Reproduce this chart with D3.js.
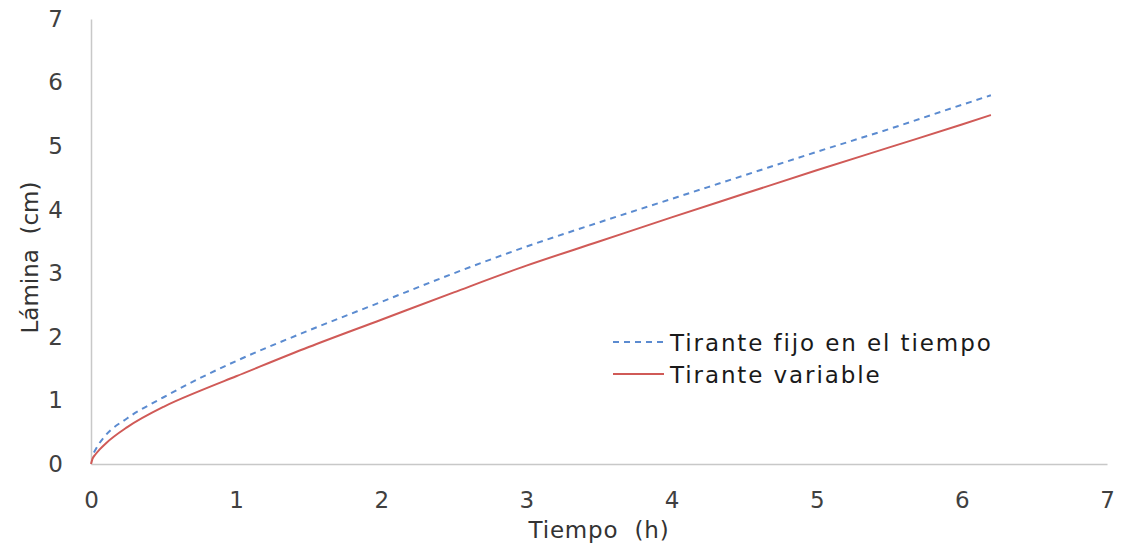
<!DOCTYPE html>
<html>
<head>
<meta charset="utf-8">
<script src="https://cdn.jsdelivr.net/npm/d3@7"></script>
<style>
  html, body { margin: 0; padding: 0; background: #fff; }
  svg { display: block; }
  text { font-family: "DejaVu Sans", Verdana, sans-serif; fill: #404040; }
</style>
</head>
<body>
<svg id="chart" width="1125" height="546"></svg>
<script>
// Infiltration depth (cm) versus time (h)
const timeFixed = [0.02, 0.05, 0.1, 0.25, 0.5, 0.75, 1, 1.5, 2, 2.5, 3, 3.5, 4, 4.5, 5, 5.5, 6, 6.2];
const depthFixed = [0.18, 0.30, 0.45, 0.72, 1.05, 1.35, 1.62, 2.10, 2.55, 3.00, 3.42, 3.80, 4.17, 4.54, 4.91, 5.27, 5.65, 5.80];

const timeVariable = [0, 0.01, 0.03, 0.06, 0.1, 0.25, 0.5, 0.75, 1, 1.5, 2, 2.5, 3, 3.5, 4, 4.5, 5, 5.5, 6, 6.2];
const depthVariable = [0, 0.08, 0.15, 0.23, 0.32, 0.58, 0.90, 1.15, 1.38, 1.84, 2.27, 2.70, 3.12, 3.50, 3.88, 4.25, 4.62, 4.98, 5.34, 5.49];

const xTicks = [0, 1, 2, 3, 4, 5, 6, 7];
const yTicks = [0, 1, 2, 3, 4, 5, 6, 7];
const seriesNames = ["Tirante fijo en el tiempo", "Tirante variable"];

const svg = d3.select("#chart");
const margin = { left: 91, right: 18, top: 19, bottom: 82 };
const W = 1125, H = 546;

const x = d3.scaleLinear().domain([0, 7]).range([margin.left, W - margin.right]);
const y = d3.scaleLinear().domain([0, 7]).range([H - margin.bottom, margin.top]);

const axisColor = "#c8c8c8";
const textColor = "#333333";
const fontFam = "DejaVu Sans, Verdana, sans-serif";

// X axis
const xAxis = svg.append("g")
  .attr("transform", `translate(0,${y(0)})`)
  .call(d3.axisBottom(x).tickValues(xTicks).tickSize(0).tickPadding(28).tickFormat(d3.format("d")));
xAxis.select(".domain").attr("stroke", axisColor).attr("stroke-width", 1.5);
xAxis.selectAll("text").attr("font-size", 23).attr("fill", textColor).attr("font-family", fontFam);

// Y axis
const yAxis = svg.append("g")
  .attr("transform", `translate(${x(0)},0)`)
  .call(d3.axisLeft(y).tickValues(yTicks).tickSize(0).tickPadding(28).tickFormat(d3.format("d")));
yAxis.select(".domain").attr("stroke", axisColor).attr("stroke-width", 1.5);
yAxis.selectAll("text").attr("font-size", 23).attr("fill", textColor).attr("font-family", fontFam);

// Axis titles
svg.append("text")
  .attr("x", x(3.5)).attr("y", 538)
  .attr("text-anchor", "middle").attr("font-size", 23)
  .attr("letter-spacing", 0.8)
  .style("fill", textColor)
  .style("white-space", "pre")
  .text("Tiempo  (h)");

svg.append("text")
  .attr("transform", `translate(38,${y(3.5) + 16}) rotate(-90)`)
  .attr("text-anchor", "middle").attr("font-size", 23)
  .style("fill", textColor)
  .style("white-space", "pre")
  .text("Lámina  (cm)");

// Curves
const line = d3.line().curve(d3.curveMonotoneX).x(d => x(d[0])).y(d => y(d[1]));

const fixedData = timeFixed.map((t, i) => [t, depthFixed[i]]);
const variableData = timeVariable.map((t, i) => [t, depthVariable[i]]);

const blue = "#5b8bd0", red = "#d05a57";
const dash = "6,5";

svg.append("path").datum(fixedData)
  .attr("d", line).attr("fill", "none")
  .attr("stroke", blue).attr("stroke-width", 2).attr("stroke-dasharray", dash);

svg.append("path").datum(variableData)
  .attr("d", line).attr("fill", "none")
  .attr("stroke", red).attr("stroke-width", 2);

// Legend
const legend = svg.append("g").attr("transform", "translate(613,342)");
const items = [
  { name: seriesNames[0], color: blue, dash: dash },
  { name: seriesNames[1], color: red, dash: null }
];
items.forEach((it, i) => {
  const g = legend.append("g").attr("transform", `translate(0,${i * 32})`);
  g.append("line").attr("x1", 0).attr("x2", 51).attr("y1", 0).attr("y2", 0)
    .attr("stroke", it.color).attr("stroke-width", 2)
    .attr("stroke-dasharray", it.dash);
  g.append("text").attr("x", 57).attr("y", 9).attr("font-size", 23)
    .attr("letter-spacing", 1.9)
    .style("fill", "#1a1a1a")
    .text(it.name);
});
</script>
</body>
</html>
